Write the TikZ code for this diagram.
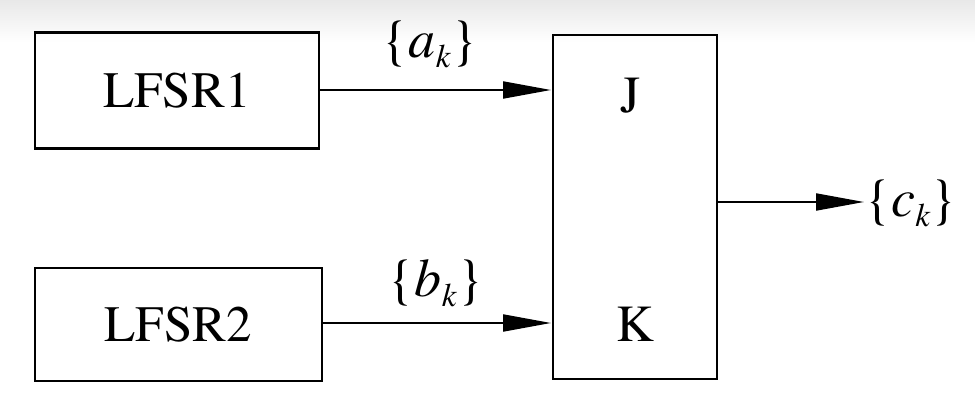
\documentclass[tikz,border=0pt]{standalone}
\usepackage{fontspec}
\setmainfont{texgyretermes}[Extension=.otf, UprightFont=*-regular, ItalicFont=*-italic, BoldFont=*-bold, BoldItalicFont=*-bolditalic]
\usetikzlibrary{arrows.meta}
\tikzset{
  blockbox/.style={draw, line width=2.4pt, inner sep=0pt, font=\fontsize{51}{58}\selectfont},
  sig/.style={line width=2pt, -{Triangle[length=48pt, width=17pt]}},
  lbl/.style={inner sep=0pt, font=\fontsize{54}{60}\selectfont},
  port/.style={inner sep=0pt, font=\fontsize{52}{58}\selectfont}
}
\newcommand{\seqlbl}[1]{\{\textit{#1}\raisebox{-10pt}{\fontsize{33}{36}\selectfont\textit{k}}\}}
\begin{document}
\begin{tikzpicture}[x=1pt, y=-1pt]
  \useasboundingbox (0,0) rectangle (975,403);
  \fill[white] (0,0) rectangle (975,403);
  \shade[top color=black!9, bottom color=white] (0,0) rectangle (975,42);
  \node[blockbox, minimum width=284pt, minimum height=116pt] (l1) at (177,90.5) {LFSR1};
  \node[blockbox, minimum width=287pt, minimum height=113pt] (l2) at (178.5,324.5) {LFSR2};
  \node[blockbox, minimum width=164pt, minimum height=344pt] (jk) at (635,207) {};
  \node[port] (j) at (631,96) {J};
  \node[port] (k) at (635,324) {K};
  \coordinate (ain) at (551,90);
  \coordinate (bin) at (551,323);
  \coordinate (cout) at (864,202);
  \draw[sig] (l1.east |- ain) -- (ain);
  \draw[sig] (l2.east |- bin) -- (bin);
  \draw[sig] (jk.east |- cout) -- (cout);
  \node[lbl] (a) at (430,44) {\seqlbl{a}};
  \node[lbl] (b) at (436,283) {\seqlbl{b}};
  \node[lbl] (c) at (911,203) {\seqlbl{c}};
\end{tikzpicture}
\end{document}
